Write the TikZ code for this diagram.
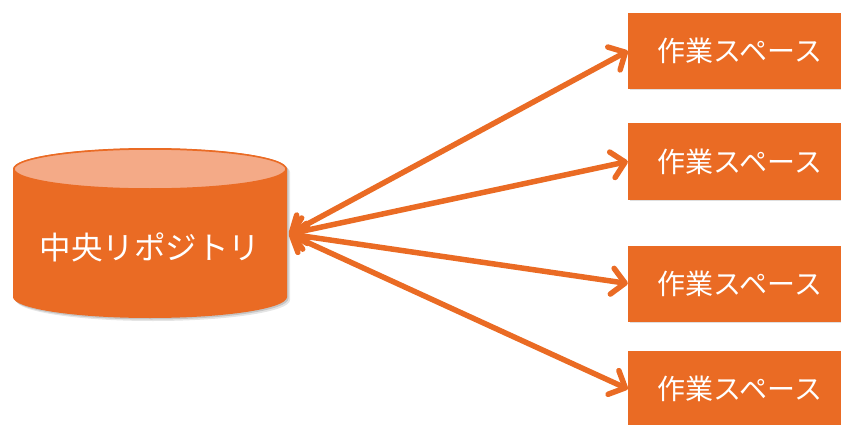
\documentclass[tikz,border=0pt]{standalone}
\usepackage{fontspec}
\setmainfont{Noto Sans CJK JP}
\usepackage{tikz}
\usetikzlibrary{arrows.meta,shadows}

\definecolor{repoorange}{HTML}{EA6B24}
\definecolor{repotop}{HTML}{F4AA87}

\begin{document}
\begin{tikzpicture}[x=1pt,y=1pt,
  workspace/.style={fill=repoorange, text=white, minimum width=224pt, minimum height=76pt,
    inner sep=0pt, font=\fontsize{28}{32}\selectfont,
    drop shadow={shadow xshift=1.5pt, shadow yshift=-1.5pt, opacity=0.25}},
  link/.style={repoorange, line width=5.5pt,
    {Straight Barb[length=13pt,width=26pt,round]}-{Straight Barb[length=13pt,width=26pt,round]}}]
  \useasboundingbox (0,0) rectangle (841,424);

  % repository cylinder with a soft shadow
  \foreach \d/\o in {3/0.10,1.5/0.14} {
    \fill[black, opacity=\o, shift={(\d,-\d)}] (13,255) -- (13,127)
      arc[start angle=180, end angle=360, x radius=137, y radius=21] -- (287,255)
      arc[start angle=0, end angle=180, x radius=137, y radius=21] -- cycle;
  }
  \fill[repoorange] (13,255) -- (13,127)
    arc[start angle=180, end angle=360, x radius=137, y radius=21] -- (287,255)
    arc[start angle=0, end angle=180, x radius=137, y radius=21] -- cycle;
  \draw[repoorange, line width=1.5pt, fill=repotop] (150,255) ellipse[x radius=136, y radius=20];
  \node[text=white, font=\fontsize{31.5}{36}\selectfont] (repo) at (150,177) {中央リポジトリ};
  \coordinate (repoport) at (289,190);

  \foreach \i/\y in {1/373,2/262.5,3/140.5,4/35} {
    \node[workspace] (ws\i) at (740,\y) {作業スペース};
    \draw[link] (repoport) -- (ws\i.west);
  }
\end{tikzpicture}
\end{document}
